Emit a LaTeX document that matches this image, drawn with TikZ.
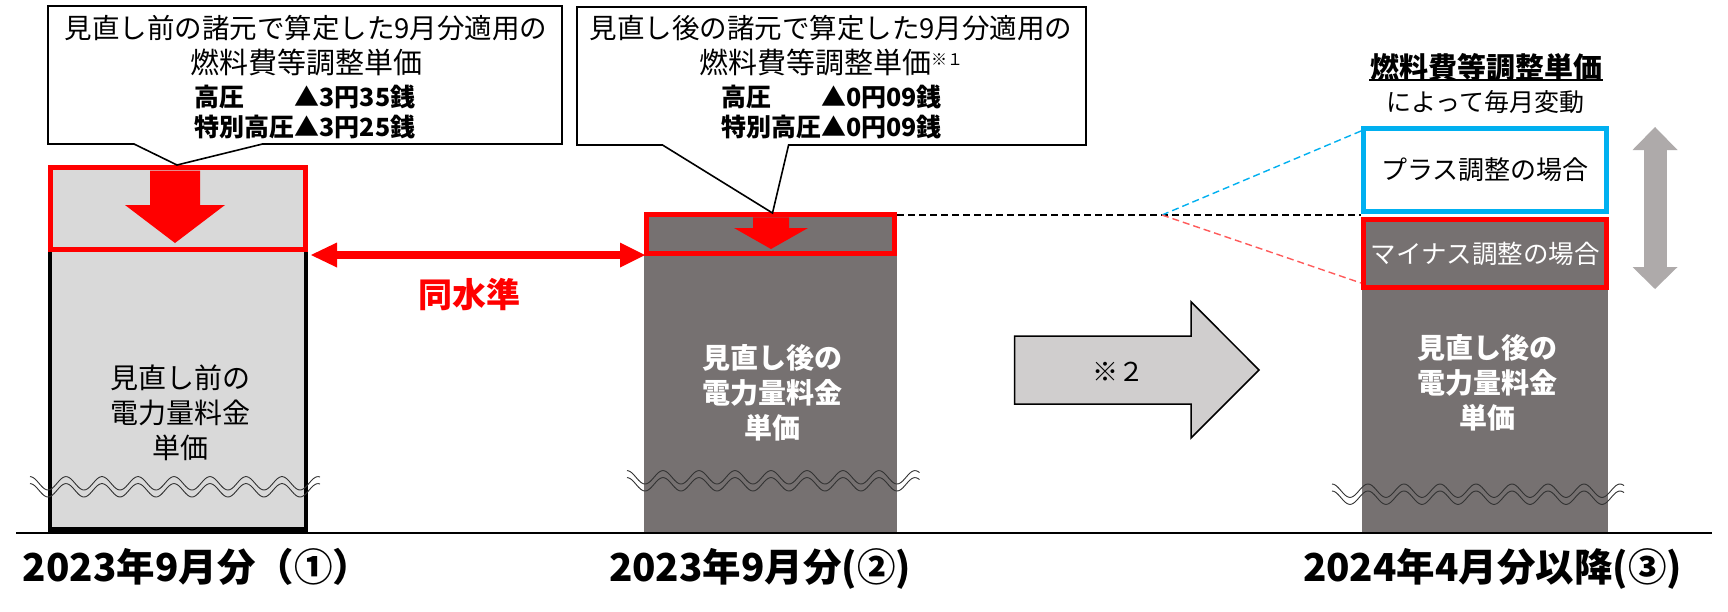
\documentclass[tikz,border=0pt]{standalone}
\usepackage{fontspec}
\setmainfont{Noto Sans CJK JP}
\usetikzlibrary{arrows.meta}
\definecolor{lg}{HTML}{D9D9D9}
\definecolor{dg}{HTML}{767171}
\definecolor{ag}{HTML}{D0CECE}
\definecolor{ga}{HTML}{AEAAAA}
\definecolor{rd}{HTML}{FF0000}
\definecolor{cy}{HTML}{00B0F0}
\definecolor{lr}{HTML}{FF5B5B}
\newcommand\fsz[2]{\fontsize{#1}{#2}\selectfont}
\newcommand\wavepair[3]{%
  \draw[wavy] plot[domain=#1:#2, samples=180, smooth] (\x,{#3-6.7*cos(10*(\x-#1))});
  \draw[wavy] plot[domain=#1:#2, samples=180, smooth] (\x,{#3+7-6.7*cos(10*(\x-#1))});
}
\begin{document}
\begin{tikzpicture}[x=1pt,y=-1pt,
  every node/.style={inner sep=0pt, outer sep=0pt},
  barlight/.style={draw=black, line width=4.5pt, fill=lg},
  bardark/.style={fill=dg},
  redframe/.style={draw=rd, line width=5.3pt},
  blueframe/.style={draw=cy, line width=5pt, fill=white},
  callout/.style={draw=black, fill=white, line width=1.6pt, line join=miter},
  wavy/.style={draw=black!80, line width=0.9pt},
  dashline/.style={line width=1.4pt, dash pattern=on 7pt off 4pt},
  calltext/.style={align=center, font=\fsz{29}{35}},
  callval/.style={font=\fsz{25}{28}\bfseries},
  bartext/.style={align=center, font=\fsz{28}{35}},
  datelabel/.style={anchor=base west, font=\fsz{38.5}{44}\bfseries}
]
\useasboundingbox (0,0) rectangle (1728,611);
\fill[white] (0,0) rectangle (1728,611);

% ---------- bar 1 ----------
\node[barlight, minimum width=256pt, minimum height=361.8pt] (bar1) at (178,348.6) {};
\node[redframe, fill=lg, minimum width=255.3pt, minimum height=81.6pt] (rb1) at (178.15,208.5) {};
\fill[rd] (150,170.5) -- (200,170.5) -- (200,205) -- (225,205) -- (175,243) -- (125,205) -- (150,205) -- cycle;
\node[bartext] (t1) at (180,413) {見直し前の\\電力量料金\\単価};

% ---------- bar 2 ----------
\node[bardark, minimum width=253pt, minimum height=321pt] (bar2) at (770.5,372.5) {};
\node[redframe, fill=dg, minimum width=248.1pt, minimum height=38.6pt] (rb2) at (770.75,234) {};
\fill[rd] (753,217.3) -- (789,217.3) -- (789,228) -- (808,228) -- (771,249) -- (734,228) -- (753,228) -- cycle;
\node[bartext, text=white, font=\fsz{28}{35}\bfseries] (t2) at (772,393) {見直し後の\\電力量料金\\単価};

% ---------- bar 3 ----------
\node[bardark, minimum width=246.5pt, minimum height=316pt] (bar3) at (1484.75,375) {};
\node[blueframe, minimum width=243pt, minimum height=83pt, font=\fsz{26}{30}] (plus) at (1485,170) {プラス調整の場合};
\node[redframe, fill=dg, minimum width=243pt, minimum height=68pt, text=white, font=\fsz{25.5}{30}] (minus) at (1485,253.5) {マイナス調整の場合};
\node[bartext, text=white, font=\fsz{28}{35}\bfseries] (t3) at (1487,383) {見直し後の\\電力量料金\\単価};

\node[font=\fsz{29}{33}\bfseries] (ttl) at (1486,67) {燃料費等調整単価};
\draw[line width=1.5pt] (1369,80) -- (1603,80);
\node[font=\fsz{25}{30}] (ttl2) at (1485,102) {によって毎月変動};

% gray double arrow
\coordinate (ga1) at (1655,127);
\coordinate (ga2) at (1655,289);
\draw[ga, line width=23pt, {Triangle[length=23pt,width=45pt,line width=0pt]}-{Triangle[length=22pt,width=45pt,line width=0pt]}] (ga1) -- (ga2);

% dashed lines
\coordinate (d0) at (897,215);
\coordinate (split) at (1162,215);
\coordinate (dk) at (1361,215);
\coordinate (db) at (1361,131);
\coordinate (dr) at (1361,283);
\draw[dashline, black] (d0) -- (dk);
\draw[dashline, cy] (split) -- (db);
\draw[dashline, lr] (split) -- (dr);

% waves
\wavepair{30}{320}{483.3}
\wavepair{627}{919.5}{477.3}
\wavepair{1332}{1624}{490.7}

% baseline
\coordinate (b0) at (16,533);
\coordinate (b1) at (1712,533);
\draw[line width=2pt] (b0) -- (b1);

% same level arrow
\coordinate (dL) at (311,255);
\coordinate (dR) at (645,255);
\draw[rd, line width=7.5pt, {Triangle[length=26pt,width=25pt,line width=0pt]}-{Triangle[length=25pt,width=25pt,line width=0pt]}] (dL) -- (dR);
\node[text=rd, font=\fsz{34}{38}\bfseries] (same) at (469,295) {同水準};

% big arrow ※2
\draw[line width=1.5pt, fill=ag, line join=miter] (1014.5,336) -- (1191,336) -- (1191,301.7) -- (1259,370) -- (1191,438) -- (1191,404) -- (1014.5,404) -- cycle;
\node[font=\fsz{26}{30}] (n2) at (1118,372) {※２};

% callout 1
\draw[callout] (48,6) -- (562,6) -- (562,144) -- (262.5,144) -- (177,165) -- (134,144) -- (48,144) -- cycle;
\node[calltext] (c1a) at (306,45.5) {{\fsz{27.5}{35}見直し前の諸元で算定した9月分適用の}\\燃料費等調整単価};
\node[callval] (c1b) at (305,115) {\begin{tabular}{@{}l@{}l@{}}高圧&▲3円35銭\\特別高圧&▲3円25銭\end{tabular}};

% callout 2
\draw[callout] (577,7) -- (1086,7) -- (1086,145) -- (788.6,145) -- (772.5,213) -- (662.5,145) -- (577,145) -- cycle;
\node[calltext] (c2a) at (831,46) {{\fsz{27.5}{35}見直し後の諸元で算定した9月分適用の}\\燃料費等調整単価\raisebox{8.5pt}{\fsz{16}{16}※１}};
\node[callval] (c2b) at (831.5,115) {\begin{tabular}{@{}l@{}l@{}}高圧&▲0円09銭\\特別高圧&▲0円09銭\end{tabular}};

% date labels
\node[datelabel] (l1) at (23,581) {2023年9月分（①）};
\node[datelabel] (l2) at (609,581) {2023年9月分(②)};
\node[datelabel] (l3) at (1303,581) {2024年4月分以降(③)};
\end{tikzpicture}
\end{document}
